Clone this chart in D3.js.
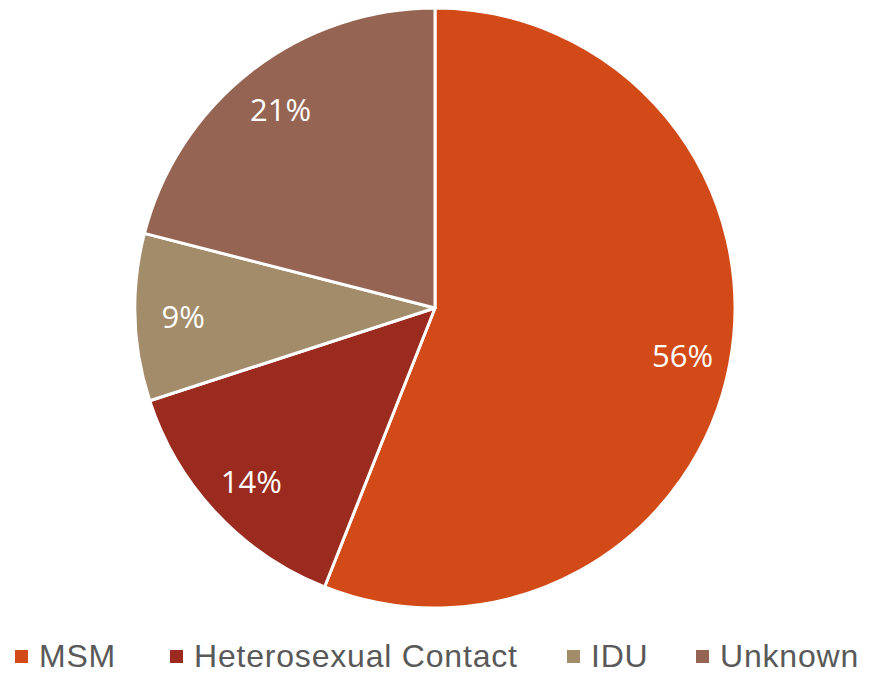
<!DOCTYPE html>
<html>
<head>
<meta charset="utf-8">
<script src="https://cdn.jsdelivr.net/npm/d3@7"></script>
<style>
  body { margin: 0; background: #fff; }
  svg { display: block; }
</style>
</head>
<body>
<script>
var categories = ['MSM', 'Heterosexual Contact', 'IDU', 'Unknown'];
var values = [56, 14, 9, 21];
var colors = ['#D24A17', '#9A2B1E', '#A28C6A', '#966453'];

var width = 872;
var height = 674;
var radius = 300;
var cx = 435, cy = 308;

var svg = d3.select('body')
    .append('svg')
    .attr('width', width)
    .attr('height', height);

var pie = d3.pie().sort(null).value(function(d) { return d; });
var arcs = pie(values);

var arc = d3.arc().innerRadius(0).outerRadius(radius);
var labelArc = d3.arc().innerRadius(radius * 0.84).outerRadius(radius * 0.84);

var g = svg.append('g').attr('transform', 'translate(' + cx + ',' + cy + ')');

g.selectAll('path')
    .data(arcs)
    .enter()
        .append('path')
        .attr('d', arc)
        .attr('fill', function(d, i) { return colors[i]; })
        .attr('stroke', '#fff')
        .attr('stroke-width', 3)
        .attr('stroke-linejoin', 'round');

g.selectAll('text.label')
    .data(arcs)
    .enter()
        .append('text')
        .attr('class', 'label')
        .attr('transform', function(d) { return 'translate(' + labelArc.centroid(d) + ')'; })
        .attr('text-anchor', 'middle')
        .attr('dominant-baseline', 'central')
        .attr('fill', '#fff')
        .style('font-family', 'Open Sans, sans-serif')
        .style('font-size', '31px')
        .text(function(d) { return d.value + '%'; });

// legend
var legendX = d3.scaleOrdinal()
    .domain(categories)
    .range([15, 170, 567, 696]);

var legend = svg.append('g').attr('transform', 'translate(0, 656)');

var items = legend.selectAll('g')
    .data(categories)
    .enter()
        .append('g')
        .attr('transform', function(d) { return 'translate(' + legendX(d) + ',0)'; });

items.append('rect')
    .attr('x', 0)
    .attr('y', -6)
    .attr('width', 13)
    .attr('height', 13)
    .attr('fill', function(d, i) { return colors[i]; });

items.append('text')
    .attr('x', 24)
    .attr('y', 0)
    .attr('dominant-baseline', 'central')
    .attr('fill', '#595959')
    .style('font-family', 'Liberation Sans, Arial, sans-serif')
    .style('font-size', '32px')
    .style('letter-spacing', '0.8px')
    .text(function(d) { return d; });
</script>
</body>
</html>
